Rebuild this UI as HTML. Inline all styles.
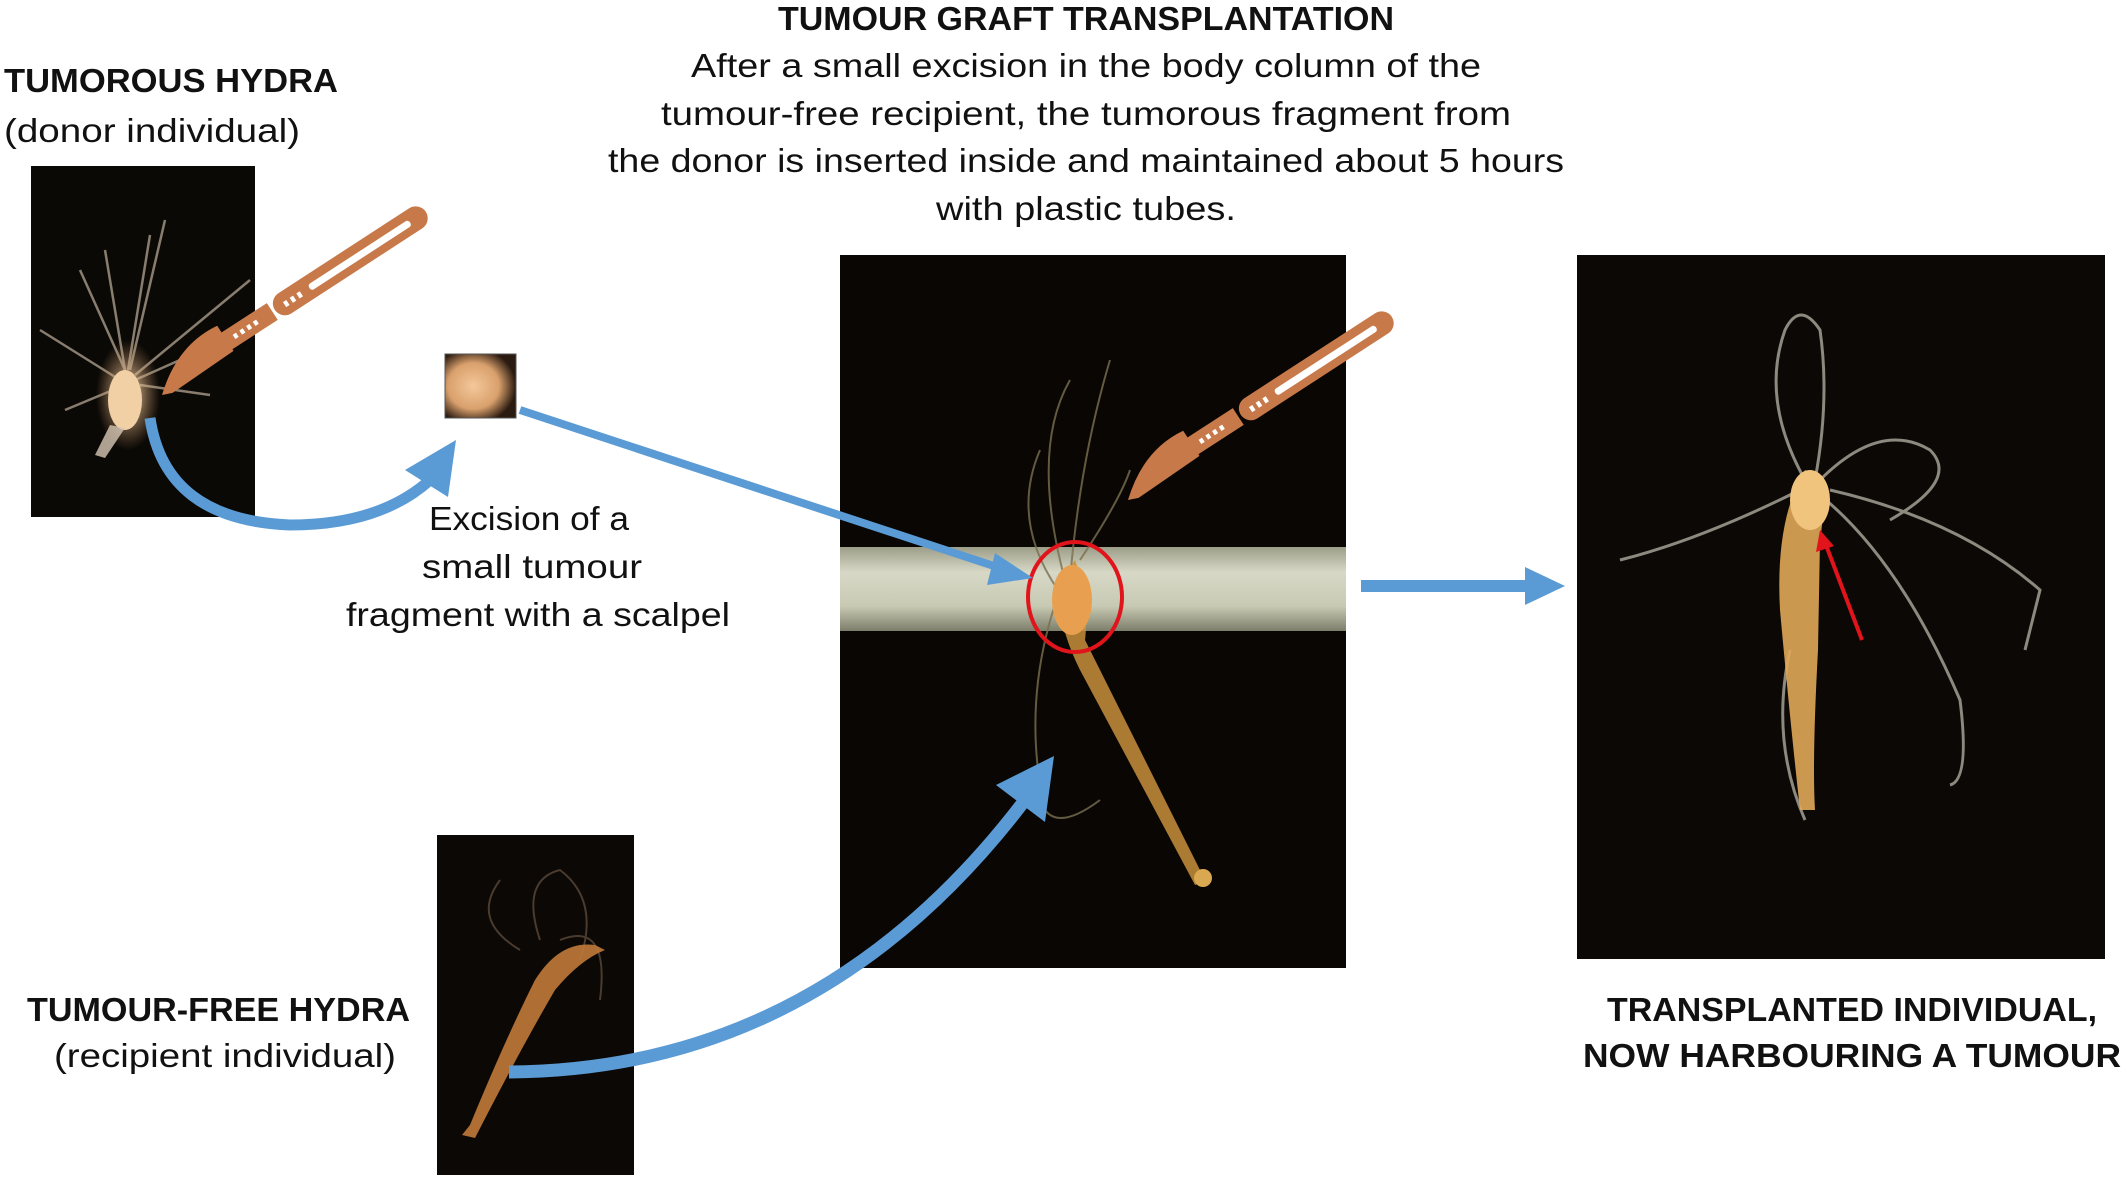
<!DOCTYPE html>
<html><head><meta charset="utf-8"><style>
html,body{margin:0;padding:0;background:#fff;}
svg{display:block;}
text{font-family:"Liberation Sans",sans-serif;fill:#111;}
</style></head><body>
<svg width="2128" height="1178" viewBox="0 0 2128 1178" xmlns="http://www.w3.org/2000/svg">
<defs>
<radialGradient id="frag" cx="40%" cy="50%" r="60%"><stop offset="0" stop-color="#f4c89a"/><stop offset="0.6" stop-color="#d9a06c"/><stop offset="1" stop-color="#2a1a10"/></radialGradient>
<radialGradient id="glow" cx="50%" cy="50%" r="50%"><stop offset="0" stop-color="#fbe1b8"/><stop offset="1" stop-color="#c89060" stop-opacity="0"/></radialGradient>
<linearGradient id="tube" x1="0" y1="0" x2="0" y2="1"><stop offset="0" stop-color="#9c9e88"/><stop offset="0.3" stop-color="#d7d8c6"/><stop offset="0.7" stop-color="#c8cab4"/><stop offset="1" stop-color="#7c7e6a"/></linearGradient>
<g id="scalpel">
<path d="M0 0 Q40 -34 84 -28 L84 2 L10 4 Z" fill="#c8794a"/>
<rect x="80" y="-20" width="58" height="20" fill="#c8794a"/>
<rect x="141" y="-22" width="180" height="24" rx="12" fill="#c8794a"/>
<rect x="182" y="-13" width="120" height="7" rx="3" fill="#fff"/>
<g fill="#fff"><rect x="92" y="-12" width="4" height="5"/><rect x="100" y="-12" width="4" height="5"/><rect x="108" y="-12" width="4" height="5"/><rect x="116" y="-12" width="4" height="5"/><rect x="152" y="-12" width="4" height="6"/><rect x="160" y="-12" width="4" height="6"/><rect x="168" y="-12" width="4" height="6"/></g>
</g>
</defs>

<text x="4" y="92" font-size="33" font-weight="bold" textLength="334" lengthAdjust="spacingAndGlyphs">TUMOROUS HYDRA</text>
<text x="4" y="142" font-size="33" textLength="296" lengthAdjust="spacingAndGlyphs">(donor individual)</text>

<text x="1086" y="30" font-size="33" font-weight="bold" text-anchor="middle" textLength="616" lengthAdjust="spacingAndGlyphs">TUMOUR GRAFT TRANSPLANTATION</text>
<text x="1086" y="77" font-size="33" text-anchor="middle" textLength="790" lengthAdjust="spacingAndGlyphs">After a small excision  in the body column of the</text>
<text x="1086" y="125" font-size="33" text-anchor="middle" textLength="850" lengthAdjust="spacingAndGlyphs">tumour-free recipient, the tumorous fragment from</text>
<text x="1086" y="172" font-size="33" text-anchor="middle" textLength="956" lengthAdjust="spacingAndGlyphs">the donor is inserted inside and maintained about 5 hours</text>
<text x="1086" y="220" font-size="33" text-anchor="middle" textLength="300" lengthAdjust="spacingAndGlyphs">with plastic tubes.</text>

<text x="529" y="530" font-size="33" text-anchor="middle" textLength="200" lengthAdjust="spacingAndGlyphs">Excision of a</text>
<text x="532" y="578" font-size="33" text-anchor="middle" textLength="220" lengthAdjust="spacingAndGlyphs">small tumour</text>
<text x="538" y="626" font-size="33" text-anchor="middle" textLength="384" lengthAdjust="spacingAndGlyphs">fragment with a scalpel</text>

<text x="27" y="1021" font-size="33" font-weight="bold" textLength="383" lengthAdjust="spacingAndGlyphs">TUMOUR-FREE HYDRA</text>
<text x="54" y="1067" font-size="33" textLength="342" lengthAdjust="spacingAndGlyphs">(recipient individual)</text>

<text x="1852" y="1021" font-size="33" font-weight="bold" text-anchor="middle" textLength="490" lengthAdjust="spacingAndGlyphs">TRANSPLANTED INDIVIDUAL,</text>
<text x="1852" y="1067" font-size="33" font-weight="bold" text-anchor="middle" textLength="538" lengthAdjust="spacingAndGlyphs">NOW HARBOURING A TUMOUR</text>

<rect x="31" y="166" width="224" height="351" fill="#0b0906"/>
<g stroke="#a89a88" stroke-width="2.5" fill="none" opacity="0.8">
<path d="M125 370 L80 270"/><path d="M125 370 L105 250"/><path d="M128 370 L150 235"/><path d="M130 370 L165 220"/><path d="M135 375 L250 280"/><path d="M120 380 L40 330"/><path d="M125 385 L65 410"/><path d="M140 385 L210 395"/><path d="M135 380 L225 340"/>
</g>
<ellipse cx="128" cy="395" rx="32" ry="55" fill="url(#glow)"/>
<ellipse cx="125" cy="400" rx="17" ry="30" fill="#f0d0a4"/>
<path d="M110 425 L95 455 L105 458 L125 428 Z" fill="#d8c8b4" opacity="0.8"/>

<use href="#scalpel" transform="translate(162,395) rotate(-33)"/>

<rect x="445" y="354" width="71" height="64" fill="url(#frag)" stroke="#555" stroke-width="1"/>

<path d="M150 418 Q165 520 290 525 Q380 525 430 480" stroke="#5b9bd5" stroke-width="11" fill="none"/>
<polygon points="456,440 405,470 448,497" fill="#5b9bd5"/>

<rect x="840" y="255" width="506" height="713" fill="#090604"/>
<rect x="840" y="547" width="506" height="84" fill="url(#tube)"/>
<g stroke="#7a7050" stroke-width="2" fill="none" opacity="0.8">
<path d="M1065 580 Q1030 450 1070 380"/><path d="M1070 580 Q1080 460 1110 360"/><path d="M1060 590 Q1020 700 1045 810 Q1060 830 1100 800"/><path d="M1080 560 Q1120 500 1130 470"/><path d="M1058 590 Q1010 520 1040 450"/>
</g>
<path d="M1075 560 Q1090 600 1085 640 L1200 870 L1210 880 L1195 885 L1080 670 Q1055 620 1060 580 Z" fill="#c8913c" opacity="0.85"/>
<ellipse cx="1072" cy="600" rx="20" ry="35" fill="#e8a050"/>
<circle cx="1203" cy="878" r="9" fill="#d9a850"/>
<ellipse cx="1075" cy="597" rx="47" ry="55" fill="none" stroke="#e0141a" stroke-width="4"/>
<use href="#scalpel" transform="translate(1128,500) rotate(-33)"/>

<line x1="520" y1="410" x2="1000" y2="568" stroke="#5b9bd5" stroke-width="8"/>
<polygon points="1033,578 995,553 987,585" fill="#5b9bd5"/>

<line x1="1361" y1="586" x2="1530" y2="586" stroke="#5b9bd5" stroke-width="12"/>
<polygon points="1565,586 1525,567 1525,605" fill="#5b9bd5"/>

<rect x="1577" y="255" width="528" height="704" fill="#0b0806"/>
<g stroke="#b8b4a8" stroke-width="3" fill="none" opacity="0.75">
<path d="M1805 480 Q1760 400 1785 330 Q1800 300 1820 330 Q1830 400 1815 480"/>
<path d="M1820 480 Q1880 420 1930 450 Q1960 480 1890 520"/>
<path d="M1800 490 Q1700 540 1620 560"/>
<path d="M1820 495 Q1900 560 1960 700 Q1970 780 1950 785"/>
<path d="M1830 490 Q1960 520 2040 590 L2025 650"/>
<path d="M1805 820 Q1770 740 1790 650"/>
</g>
<path d="M1805 470 Q1830 480 1820 540 L1818 650 Q1812 760 1815 810 L1800 810 Q1790 720 1780 610 Q1775 520 1805 470 Z" fill="#e0a858" opacity="0.9"/>
<ellipse cx="1810" cy="500" rx="20" ry="30" fill="#f1c47e"/>
<line x1="1862" y1="640" x2="1826" y2="545" stroke="#e0141a" stroke-width="4"/>
<polygon points="1820,530 1816,552 1834,546" fill="#e0141a"/>

<rect x="437" y="835" width="197" height="340" fill="#0b0806"/>
<g stroke="#5a4838" stroke-width="2" fill="none" opacity="0.8">
<path d="M540 940 Q520 880 560 870 Q600 900 580 960"/><path d="M560 940 Q610 920 600 1000"/><path d="M520 950 Q470 920 500 880"/>
</g>
<path d="M595 945 Q560 940 535 980 Q505 1040 470 1125 L462 1135 L475 1138 Q520 1050 555 990 Q580 960 605 950 Z" fill="#c07a3a" opacity="0.9"/>

<path d="M509 1072 Q820 1070 1025 800" stroke="#5b9bd5" stroke-width="13" fill="none"/>
<polygon points="1054,756 996,785 1045,822" fill="#5b9bd5"/>
</svg>
</body></html>
